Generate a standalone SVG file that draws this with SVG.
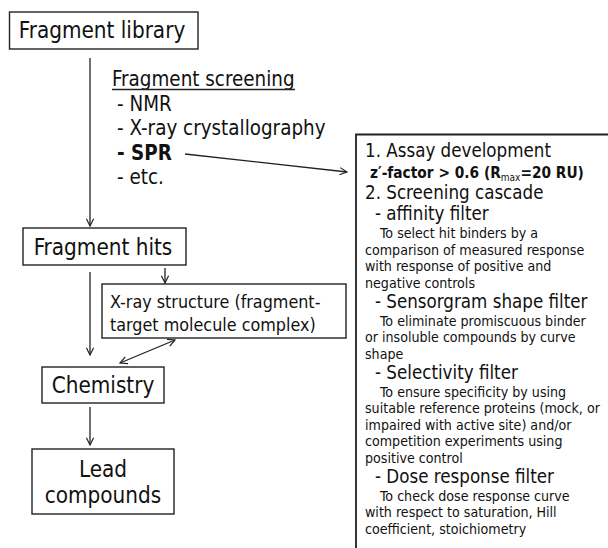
<svg xmlns="http://www.w3.org/2000/svg" width="608" height="548" viewBox="0 0 608 548">
<style>
text{font-family:"DejaVu Sans Condensed","DejaVu Sans",Verdana,sans-serif;font-stretch:condensed;fill:#111}
.box{fill:#fff;stroke:#222;stroke-width:1.4}
.big{font-size:22.3px}
.mid{font-size:20.4px}
.xr{font-size:17.8px}
.hd{font-size:18.6px}
.sm{font-size:14.1px}
.zf{font-size:15.3px;font-weight:bold}
.c{text-anchor:middle}
.con{fill:none;stroke:#222;stroke-width:1.3}
</style>
<defs>
<marker id="ah" viewBox="0 0 10 10" refX="9" refY="5" markerWidth="9" markerHeight="9" markerUnits="userSpaceOnUse" orient="auto-start-reverse">
<path d="M1,1 L9,5 L1,9" fill="none" stroke="#222" stroke-width="1.3"/>
</marker>
</defs>
<rect width="608" height="548" fill="#fff"/>
<g id="fragment-library">
<rect class="box" x="9.5" y="12" width="188.5" height="37"/>
<text class="big c" x="102" y="38">Fragment library</text>
</g>
<g id="screening">
<text class="mid" x="112" y="86">Fragment screening</text>
<line x1="112" y1="89.5" x2="295" y2="89.5" stroke="#222" stroke-width="1.3"/>
<text class="mid" x="117" y="111">- NMR</text>
<text class="mid" x="117" y="135">- X-ray crystallography</text>
<text class="mid" x="117" y="160" font-weight="bold">- SPR</text>
<text class="mid" x="117" y="184">- etc.</text>
</g>
<g id="fragment-hits">
<rect class="box" x="23" y="228" width="163" height="37"/>
<text class="big c" x="103" y="255">Fragment hits</text>
</g>
<g id="xray-structure">
<rect class="box" x="102" y="284" width="244" height="54"/>
<text class="xr" x="110" y="308">X-ray structure (fragment-</text>
<text class="xr" x="110" y="331">target molecule complex)</text>
</g>
<g id="chemistry">
<rect class="box" x="42" y="367" width="122" height="36"/>
<text class="big c" x="103" y="393">Chemistry</text>
</g>
<g id="lead-compounds">
<rect class="box" x="32" y="449" width="142" height="65"/>
<text class="big c" x="103" y="477">Lead</text>
<text class="big c" x="103" y="503">compounds</text>
</g>
<g id="spr-details">
<path d="M356,548 V134.5 H610" fill="none" stroke="#222" stroke-width="1.8"/>
<text class="hd" x="365" y="157">1. Assay development</text>
<text class="zf" x="370" y="178">z′-factor &gt; 0.6 (R<tspan font-size="10px" font-weight="normal" dy="3">max</tspan><tspan dy="-3">=20 RU)</tspan></text>
<text class="hd" x="365" y="199">2. Screening cascade</text>
<text class="hd" x="375" y="220">- affinity filter</text>
<text class="sm" x="380" y="237.5">To select hit binders by a</text>
<text class="sm" x="365" y="254.5">comparison of measured response</text>
<text class="sm" x="365" y="271">with response of positive and</text>
<text class="sm" x="365" y="287.5">negative controls</text>
<text class="hd" x="375" y="308">- Sensorgram shape filter</text>
<text class="sm" x="380" y="325.5">To eliminate promiscuous binder</text>
<text class="sm" x="365" y="342">or insoluble compounds by curve</text>
<text class="sm" x="365" y="358.5">shape</text>
<text class="hd" x="375" y="379">- Selectivity filter</text>
<text class="sm" x="380" y="396.5">To ensure specificity by using</text>
<text class="sm" x="365" y="413">suitable reference proteins (mock, or</text>
<text class="sm" x="365" y="429.5">impaired with active site) and/or</text>
<text class="sm" x="365" y="446">competition experiments using</text>
<text class="sm" x="365" y="462.5">positive control</text>
<text class="hd" x="375" y="483">- Dose response filter</text>
<text class="sm" x="380" y="500.5">To check dose response curve</text>
<text class="sm" x="365" y="517">with respect to saturation, Hill</text>
<text class="sm" x="365" y="533.5">coefficient, stoichiometry</text>
</g>
<g id="connectors">
<line class="con" x1="90" y1="58" x2="90" y2="226" marker-end="url(#ah)"/>
<line class="con" x1="185" y1="154" x2="347" y2="172" marker-end="url(#ah)"/>
<line class="con" x1="90" y1="272" x2="90" y2="355" marker-end="url(#ah)"/>
<line class="con" x1="165" y1="268" x2="165" y2="283" marker-end="url(#ah)"/>
<line class="con" x1="120" y1="363" x2="175" y2="340" marker-start="url(#ah)" marker-end="url(#ah)"/>
<line class="con" x1="90" y1="407" x2="90" y2="445" marker-end="url(#ah)"/>
</g>
</svg>
